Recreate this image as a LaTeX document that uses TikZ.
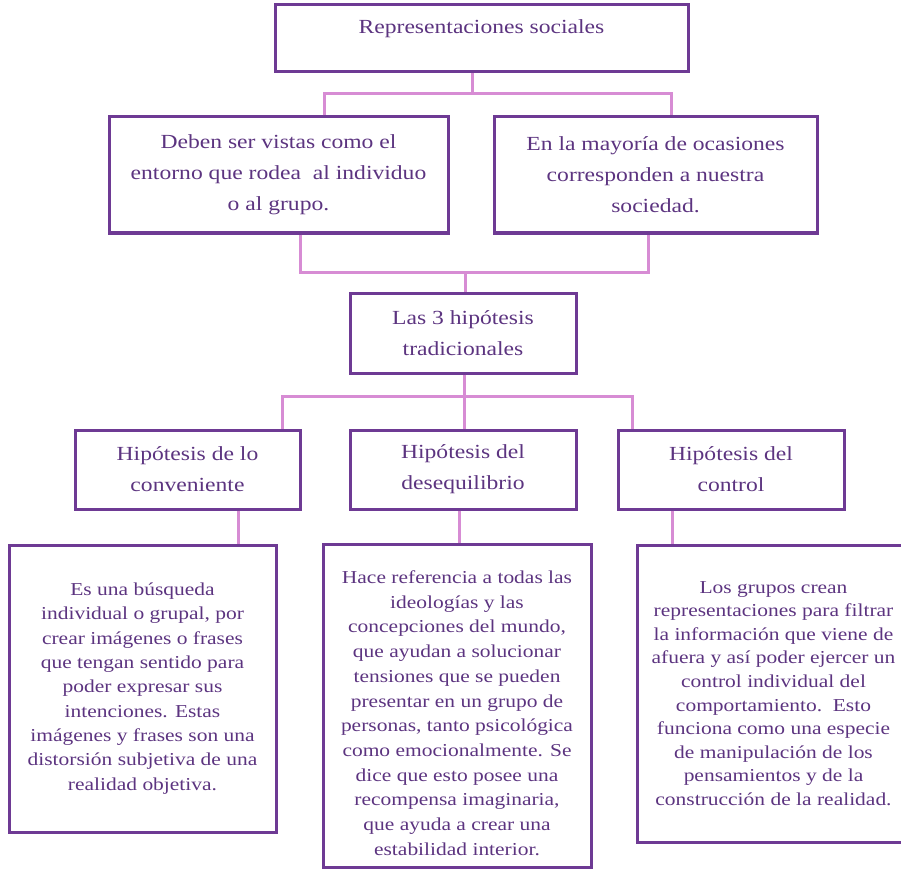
\documentclass[tikz,border=0pt]{standalone}
\usepackage{fontspec}
\setmainfont[FakeStretch=1.18]{Liberation Serif}
\definecolor{boxc}{RGB}{110,58,148}
\definecolor{linkc}{RGB}{215,140,212}
\definecolor{txtc}{RGB}{92,52,128}
\begin{document}
\begin{tikzpicture}[x=1pt,y=-1pt,
	caja/.style={draw=boxc,line width=3pt,align=center,text=txtc,inner sep=0pt},
	big/.style={caja,font=\fontsize{20}{31}\selectfont},
	small/.style={caja,font=\fontsize{18.2}{#1}\selectfont},
	small/.default=24.3,
	link/.style={draw=linkc,line width=3pt}]
	\useasboundingbox(0,0)rectangle(901,877);
	\node[big,minimum width=413pt,minimum height=67pt,text depth=23pt](rs)at(481.5,38.5){Representaciones sociales};
	\node[big,minimum width=339pt,minimum height=116pt](ml)at(278.5,175){Deben ser vistas como el\\entorno que rodea\ \ al individuo\\o al grupo.};
	\node[big,minimum width=323pt,minimum height=116pt](mr)at(655.5,175){En la mayoría de ocasiones\\corresponden a nuestra\\sociedad.};
	\node[big,minimum width=226pt,minimum height=80pt](las)at(463,333){Las 3 hipótesis\\tradicionales};
	\node[big,minimum width=225pt,minimum height=79pt](h1)at(187.5,469.5){Hipótesis de lo\\conveniente};
	\node[big,minimum width=226pt,minimum height=79pt](h2)at(463,469.5){Hipótesis del\\desequilibrio};
	\node[big,minimum width=226pt,minimum height=79pt](h3)at(731,469.5){Hipótesis del\\control};
	\node[small,minimum width=267pt,minimum height=287pt](b1)at(142.5,688.5){Es una búsqueda\\individual o grupal, por\\crear imágenes o frases\\que tengan sentido para\\poder expresar sus\\intenciones. Estas\\imágenes y frases son una\\distorsión subjetiva de una\\realidad objetiva.};
	\node[small=24.7,minimum width=268pt,minimum height=323pt](b2)at(457,705.5){\rule{0pt}{28pt}Hace referencia a todas las\\ideologías y las\\concepciones del mundo,\\que ayudan a solucionar\\tensiones que se pueden\\presentar en un grupo de\\personas, tanto psicológica\\como emocionalmente. Se\\dice que esto posee una\\recompensa imaginaria,\\que ayuda a crear una\\estabilidad interior.};
	\node[small=23.6,minimum width=273pt,minimum height=297pt](b3)at(773.5,693.5){Los grupos crean\\representaciones para filtrar\\la información que viene de\\afuera y así poder ejercer un\\control individual del\\comportamiento.\ \ Esto\\funciona como una especie\\de manipulación de los\\pensamientos y de la\\construcción de la realidad.};
	\coordinate(a)at(472,94);\coordinate(a1)at(324,94);\coordinate(a2)at(671,94);
	\coordinate(b)at(465,272);\coordinate(b1x)at(300,272);\coordinate(b2x)at(648,272);
	\coordinate(c)at(464,396);\coordinate(c1)at(282,396);\coordinate(c2)at(632,396);
	\coordinate(d1)at(238,527);\coordinate(d2)at(459,527);\coordinate(d3)at(672,527);
	\draw[link](rs.south -| a)--(a);
	\draw[link](ml.north -| a1)--(a1)--(a2)--(mr.north -| a2);
	\draw[link](ml.south -| b1x)--(b1x)--(b2x)--(mr.south -| b2x);
	\draw[link](b)--(las.north -| b);
	\draw[link](las.south -| c)--(c);
	\draw[link](h1.north -| c1)--(c1)--(c2)--(h3.north -| c2);
	\draw[link](c)--(h2.north -| c);
	\draw[link](h1.south -| d1)--(b1.north -| d1);
	\draw[link](h2.south -| d2)--(b2.north -| d2);
	\draw[link](h3.south -| d3)--(b3.north -| d3);
\end{tikzpicture}
\end{document}
